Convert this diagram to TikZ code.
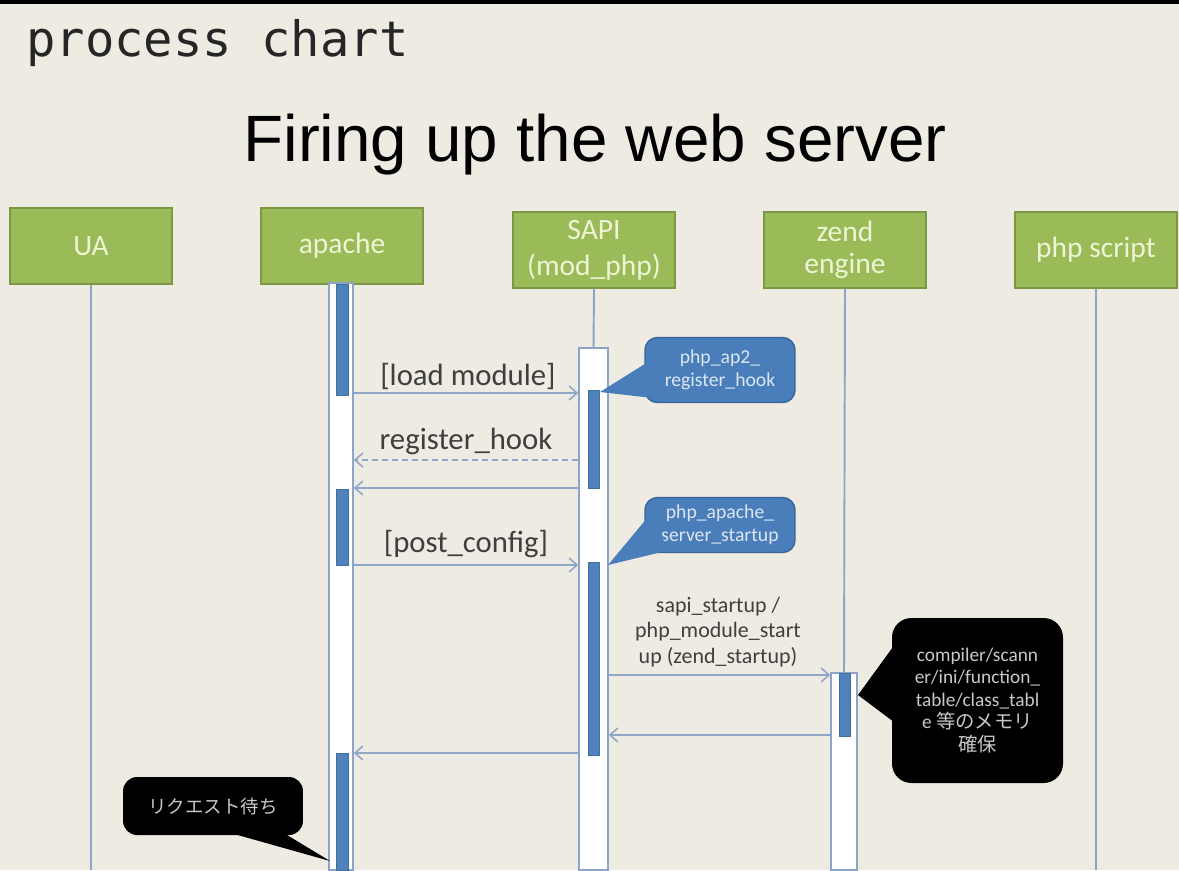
\documentclass[tikz,border=0pt]{standalone}
\usepackage{fontspec}
\setmainfont{Carlito}
\newfontfamily\titlefont{Liberation Sans}
\newfontfamily\chartmono{DejaVu Sans Mono}
\newfontfamily\cjk{Noto Sans CJK JP}
\usetikzlibrary{arrows.meta,fit,calc}
\definecolor{bg}{HTML}{EEEBE2}
\definecolor{headfill}{HTML}{9BBB59}
\definecolor{headdraw}{HTML}{7C9846}
\definecolor{headtext}{HTML}{EEF4D4}
\definecolor{barblue}{HTML}{4F81BD}
\definecolor{bardraw}{HTML}{41709F}
\definecolor{lifeblue}{HTML}{8CA4C8}
\definecolor{arrowblue}{HTML}{90A7C8}
\definecolor{labelgray}{HTML}{3F3F3F}
\definecolor{calloutblue}{HTML}{4A7EBB}
\definecolor{calloutdraw}{HTML}{3A6599}
\definecolor{callouttext}{HTML}{DCE6F2}
\definecolor{blacktext}{HTML}{C8C8C8}
\begin{document}
\begin{tikzpicture}[x=0.02cm,y=-0.02cm,
  head/.style={draw=headdraw, fill=headfill, line width=1.1pt, minimum width=3.24cm, minimum height=1.52cm,
    inner sep=0pt, text=headtext, align=center, font=\fontsize{16.8pt}{19pt}\selectfont},
  life/.style={draw=lifeblue, line width=1.1pt},
  actcol/.style={draw=lifeblue, fill=white, line width=0.9pt, inner sep=0pt},
  actbar/.style={draw=bardraw, fill=barblue, line width=0.4pt, inner sep=0pt},
  msg/.style={draw=arrowblue, line width=0.9pt, -{Straight Barb[length=4.5pt,width=8pt]}},
  msgdash/.style={msg, dash pattern=on 3.4pt off 2.3pt},
  msglabel/.style={text=labelgray, inner sep=0pt, font=\fontsize{17.5pt}{21pt}\selectfont},
  bluecall/.style={draw=calloutdraw, fill=calloutblue, line width=0.8pt, rounded corners=7pt, inner sep=0pt,
    text=callouttext, align=center, font=\fontsize{11.2pt}{13.2pt}\selectfont},
  blackcall/.style={fill=black, rounded corners=11pt, inner sep=0pt, text=blacktext, align=center,
    font=\fontsize{11pt}{12.8pt}\selectfont}
]
\fill[bg] (0,0) rectangle (1179,870);
\useasboundingbox (0,0) rectangle (1179,870);
\fill[black] (0,0) rectangle (1179,4);
\coordinate (bot) at (0,870);

% titles
\node[anchor=base west, inner sep=0pt, text=black!85, font=\chartmono\fontsize{27.8pt}{30pt}\selectfont] (chart) at (26,56) {process chart};
\node[anchor=base, inner sep=0pt, text=black, font=\titlefont\fontsize{37.3pt}{44pt}\selectfont] (title) at (595,161) {Firing up the web server};

% heads
\node[head] (UA) at (91,246) {UA};
\node[head] (apache) at (342,246) {apache};
\node[head, font=\fontsize{16.8pt}{20.5pt}\selectfont] (SAPI) at (594,250) {SAPI\\(mod\_php)};
\node[head, font=\fontsize{16.8pt}{18pt}\selectfont] (zend) at (845,250) {zend\\engine};
\node[head] (php) at (1096,250) {php script};

% activation columns
\node[actcol, fit={(329,283)(353,870)}] (colA) {};
\node[actcol, fit={(579,348)(608,870)}] (colS) {};
\node[actcol, fit={(831,673)(857,870)}] (colZ) {};

% lifelines
\draw[life] (UA.south) -- (UA.south |- bot);
\draw[life] (SAPI.south) -- (colS.north);
\draw[life] (zend.south) -- (colZ.north);
\draw[life] (php.south) -- (php.south |- bot);

% activation bars
\node[actbar, fit={(336,284)(348,395)}] (barA1) {};
\node[actbar, fit={(336,489)(348,565)}] (barA2) {};
\node[actbar, fit={(336,753)(348,870)}] (barA3) {};
\node[actbar, fit={(588,390)(599,488)}] (barS1) {};
\node[actbar, fit={(588,562)(599,755)}] (barS2) {};
\node[actbar, fit={(839,673)(850,736)}] (barZ1) {};

% messages
\draw[msg] (colA.east |- 0,393) -- (colS.west |- 0,393);
\node[msglabel] (l1) at (468,376) {[load module]};
\draw[msgdash] (colS.west |- 0,460) -- (colA.east |- 0,460);
\node[msglabel] (l2) at (466,441) {register\_hook};
\draw[msg] (colS.west |- 0,488) -- (colA.east |- 0,488);
\draw[msg] (colA.east |- 0,565) -- (colS.west |- 0,565);
\node[msglabel] (l3) at (466,544) {[post\_config]};
\draw[msg] (colS.east |- 0,675) -- (colZ.west |- 0,675);
\node[text=labelgray, inner sep=0pt, align=center, font=\fontsize{12.5pt}{14.7pt}\selectfont] (l4) at (718,632)
  {sapi\_startup /\\php\_module\_start\\up (zend\_startup)};
\draw[msg] (colZ.west |- 0,735) -- (colS.east |- 0,735);
\draw[msg] (colS.west |- 0,753) -- (colA.east |- 0,753);

% blue callouts
\coordinate (tipB1) at (600,392);
\coordinate (tipB2) at (608,565);
\node[bluecall, minimum width=3.0cm, minimum height=1.3cm] (cb1) at (720,370) {php\_ap2\_\\register\_hook};
\fill[calloutblue] (648,362) -- (tipB1) -- (670,400) -- cycle;
\node[bluecall, minimum width=3.0cm, minimum height=1.1cm] (cb2) at (720,525) {php\_apache\_\\server\_startup};
\fill[calloutblue] (648,517) -- (tipB2) -- (670,550) -- cycle;

% black callouts
\coordinate (tipK1) at (858,695);
\fill[black] (898,640) -- (tipK1) -- (898,725) -- cycle;
\node[blackcall, minimum width=3.42cm, minimum height=3.3cm] (ck1) at (977.5,700.5)
  {compiler/scann\\er/ini/function\_\\table/class\_tabl\\e {\cjk 等のメモリ}\\{\cjk 確保}};
\coordinate (tipK2) at (330,861);
\fill[black] (227,832) -- (tipK2) -- (282,832) -- cycle;
\node[blackcall, rounded corners=8pt, minimum width=3.6cm, minimum height=1.16cm, font=\cjk\fontsize{10.5pt}{12pt}\selectfont] (ck2) at (213,806) {リクエスト待ち};
\end{tikzpicture}
\end{document}
